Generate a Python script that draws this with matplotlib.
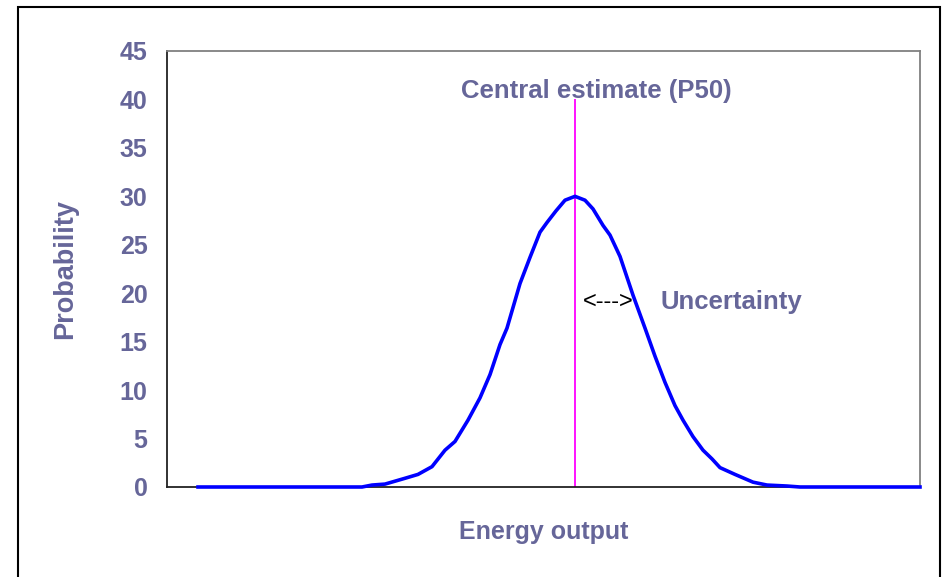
import matplotlib.pyplot as plt
from matplotlib.patches import Rectangle

plt.rcParams['font.family'] = ['Liberation Sans', 'DejaVu Sans']

# energy output (arbitrary units) and probability
energy = [31, 195, 205, 218, 228, 238, 251, 265, 278, 288, 301, 313, 323, 333,
          340, 353, 363, 373, 380, 389, 398, 408, 418, 426, 436, 443, 453, 466,
          478, 488, 498, 508, 516, 526, 536, 545, 553, 568, 586, 600, 620, 633, 753]
probability = [0, 0, 0.2, 0.3, 0.6, 0.9, 1.3, 2.1, 3.8, 4.7, 6.9, 9.2, 11.6, 14.7,
               16.4, 21.0, 23.7, 26.3, 27.3, 28.5, 29.6, 30.0, 29.6, 28.7, 27.0, 26.0,
               23.8, 19.8, 16.4, 13.5, 10.8, 8.4, 6.9, 5.2, 3.8, 2.9, 2.0, 1.3, 0.5,
               0.2, 0.1, 0, 0]
p50 = 408
p50_top = 40
yticks = [0, 5, 10, 15, 20, 25, 30, 35, 40, 45]

label_color = '#666699'

fig = plt.figure(figsize=(9.43, 5.77), dpi=100)
fig.patches.append(Rectangle((18 / 943, -0.05), 922 / 943, 1.05 - 7 / 577,
                             transform=fig.transFigure, fill=False,
                             edgecolor='black', linewidth=1.5))

ax = fig.add_axes([167 / 943, 90 / 577, 753 / 943, 436 / 577])
ax.plot(energy, probability, color='#0000ff', linewidth=2.6, clip_on=False, zorder=3)
ax.vlines(p50, 0, p50_top, color='#ff00ff', linewidth=1.3, zorder=2)

ax.set_xlim(0, 753)
ax.set_ylim(0, 45)
ax.set_yticks(yticks)
ax.set_xticks([])
ax.tick_params(axis='y', length=0, pad=14, labelsize=18, labelcolor=label_color)
for lab in ax.get_yticklabels():
    lab.set_fontweight('bold')

for side in ['left', 'bottom']:
    ax.spines[side].set_color('#222222')
    ax.spines[side].set_linewidth(1.3)
for side in ['top', 'right']:
    ax.spines[side].set_color('#808080')
    ax.spines[side].set_linewidth(1.3)

ax.set_ylabel('Probability', fontsize=19.5, fontweight='bold', color=label_color, labelpad=30)
ax.set_xlabel('Energy output', fontsize=18, fontweight='bold', color=label_color, labelpad=24)

ax.text(429, 40.9, 'Central estimate (P50)', ha='center', va='center',
        fontsize=18.5, fontweight='bold', color=label_color)
ax.text(441, 19.1, '<--->', ha='center', va='center', fontsize=17, color='black')
ax.text(493, 19.1, 'Uncertainty', ha='left', va='center',
        fontsize=18.5, fontweight='bold', color=label_color)

plt.savefig('out.png', dpi=100)
